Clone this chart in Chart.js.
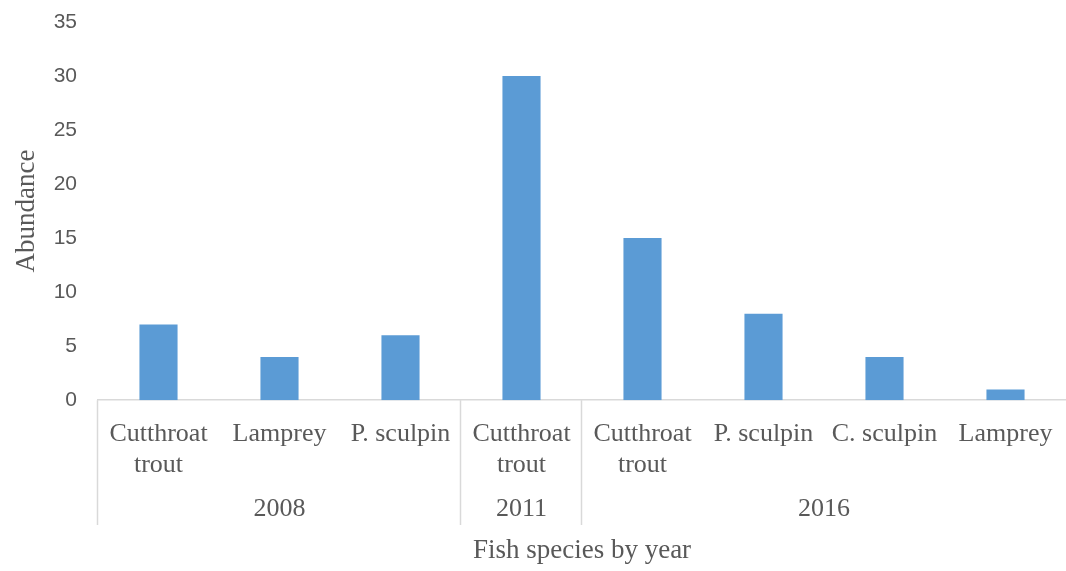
<!DOCTYPE html>
<html>
<head>
<meta charset="utf-8">
<script src="https://cdn.jsdelivr.net/npm/chart.js@4"></script>
<style>
  body { margin: 0; background: #fff; }
</style>
</head>
<body>
<canvas id="fishChart" width="1066" height="571"></canvas>
<script>
// 魚種ラベル（2行表示は配列）
const species = [
    ['Cutthroat', 'trout'], 'Lamprey', 'P. sculpin',
    ['Cutthroat', 'trout'],
    ['Cutthroat', 'trout'], 'P. sculpin', 'C. sculpin', 'Lamprey'
];
// 個体数
const abundance = [7, 4, 6, 30, 15, 8, 4, 1];
// 年グループ
const years = ['2008', '2011', '2016'];
const yearSizes = [3, 1, 4];
// y軸目盛り
const yMax = 35;
const yStep = 5;

const serif = '"Liberation Serif", "Times New Roman", serif';
const textColor = '#595959';
const lineColor = '#D9D9D9';

/**
 * 年ごとのグループ区切りと年ラベルを描くプラグイン
 */
const yearGroups = {
    id: 'yearGroups',
    afterDraw(chart) {
        const ctx = chart.ctx;
        const x = chart.scales.x;
        const area = chart.chartArea;
        const edge = i => {
            if (i <= 0) return area.left;
            if (i >= species.length) return area.right;
            return (x.getPixelForValue(i - 1) + x.getPixelForValue(i)) / 2;
        };
        ctx.save();
        ctx.strokeStyle = lineColor;
        ctx.lineWidth = 1.5;
        ctx.fillStyle = textColor;
        ctx.font = '26px ' + serif;
        ctx.textAlign = 'center';
        ctx.textBaseline = 'middle';
        let start = 0;
        years.forEach((year, g) => {
            const end = start + yearSizes[g];
            const x0 = edge(start);
            const x1 = edge(end);
            // 区切り線
            ctx.beginPath();
            ctx.moveTo(Math.round(x0) - 0.5, area.bottom);
            ctx.lineTo(Math.round(x0) - 0.5, 525);
            ctx.stroke();
            // 年ラベル
            ctx.fillText(year, (x0 + x1) / 2, 509);
            start = end;
        });
        ctx.restore();
    }
};

function createChart() {
    const ctx = document.getElementById('fishChart').getContext('2d');
    new Chart(ctx, {
        type: 'bar',
        data: {
            labels: species,
            datasets: [{
                label: 'Abundance',
                data: abundance,
                backgroundColor: '#5B9BD5',
                borderWidth: 0,
                categoryPercentage: 1,
                barPercentage: 0.315
            }]
        },
        options: {
            responsive: false,
            animation: false,
            layout: { padding: { top: 22, right: 0, bottom: 4, left: 0 } },
            plugins: {
                legend: { display: false },
                tooltip: { enabled: false }
            },
            scales: {
                x: {
                    afterFit(scale) {
                        // ラベルのはみ出し分の余白を消す
                        scale.paddingLeft = 0;
                        scale.paddingRight = 0;
                    },
                    grid: { display: false, drawTicks: false },
                    border: { display: true, color: lineColor, width: 1.5 },
                    ticks: {
                        color: textColor,
                        font: { family: serif, size: 26, lineHeight: 1.2 },
                        padding: 18,
                        maxRotation: 0,
                        autoSkip: false
                    },
                    title: {
                        display: true,
                        text: 'Fish species by year',
                        color: textColor,
                        font: { family: serif, size: 27 },
                        padding: { top: 36, bottom: 0 }
                    }
                },
                y: {
                    min: 0,
                    max: yMax,
                    afterFit(scale) {
                        scale.width = 98;
                        scale.paddingTop = 0;
                        scale.paddingBottom = 0;
                    },
                    grid: { display: false, drawTicks: false },
                    border: { display: false },
                    ticks: {
                        stepSize: yStep,
                        color: textColor,
                        font: { family: '"Liberation Sans", Arial, sans-serif', size: 21 },
                        padding: 21
                    },
                    title: {
                        display: true,
                        text: 'Abundance',
                        color: textColor,
                        font: { family: serif, size: 27 },
                        padding: { top: 11, bottom: 0 }
                    }
                }
            }
        },
        plugins: [yearGroups]
    });
}

createChart();
</script>
</body>
</html>
